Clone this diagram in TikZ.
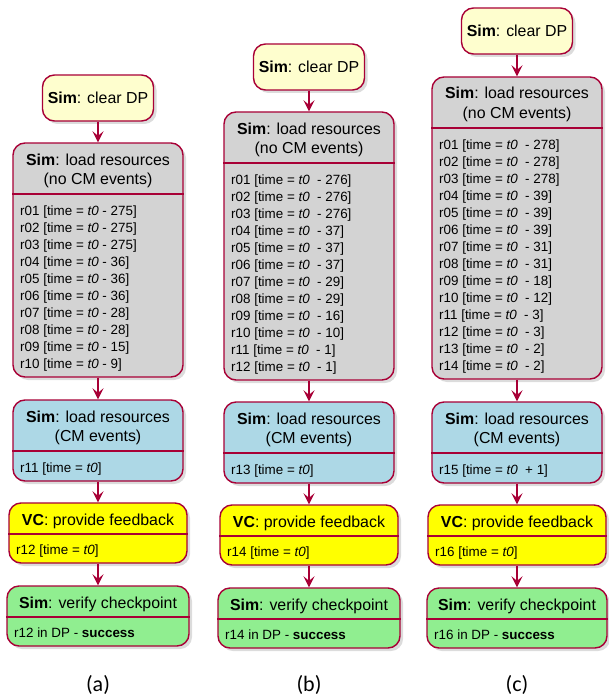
\documentclass[tikz,border=0pt]{standalone}
\usepackage{fontspec}
\setmainfont{Liberation Sans}
\newfontfamily\capfont{Carlito}
\usetikzlibrary{arrows.meta,shadows}
\definecolor{pbord}{HTML}{A80036}
\definecolor{pcream}{HTML}{FEFECE}
\definecolor{pgray}{HTML}{D3D3D3}
\definecolor{pblue}{HTML}{ADD8E6}
\definecolor{pyellow}{HTML}{FFFF00}
\definecolor{pgreen}{HTML}{90EE90}
\tikzset{
  boxbase/.style={draw=pbord, line width=1.4pt, rounded corners=12pt, rectangle, inner sep=0pt,
    drop shadow={opacity=0.28, shadow xshift=3pt, shadow yshift=-3pt}},
  clearbox/.style={boxbase, fill=pcream, minimum width=111pt, minimum height=46pt,
    font=\fontsize{15.9}{19}\selectfont, text height=11.6pt, text depth=0pt},
  loadbox/.style={boxbase, fill=pgray, minimum width=170pt},
  cmbox/.style={boxbase, fill=pblue, minimum width=170pt, minimum height=81pt},
  vcbox/.style={boxbase, fill=pyellow, minimum width=178pt, minimum height=60pt},
  vfbox/.style={boxbase, fill=pgreen, minimum height=60pt},
  divider/.style={draw=pbord, line width=1.4pt},
  ttl/.style={anchor=base, inner sep=0pt, font=\fontsize{15.9}{19}\selectfont},
  lst/.style={anchor=base west, inner sep=0pt, font=\fontsize{13.4}{17}\selectfont},
  flow/.style={draw=pbord, line width=1.3pt, -{Stealth[length=11pt, width=11pt, inset=4.5pt]}},
  caption/.style={inner sep=0pt, font=\capfont\fontsize{22}{26}\selectfont}
}
\begin{document}
\begin{tikzpicture}[x=1pt, y=-1pt]
\useasboundingbox (0,0) rectangle (608,698);

% ================= column (a) =================
\node[clearbox] (clrA) at (98,98) {\textbf{Sim}: clear DP};
\node[loadbox, minimum height=234pt] (ldA) at (98,260) {};
\node[ttl] (ldAt1) at (98,165) {\textbf{Sim}: load resources};
\node[ttl] (ldAt2) at (98,184) {(no CM events)};
\draw[divider] (ldA.west |- 0,194) -- (ldA.east |- 0,194);
\foreach \r/\t [count=\k from 0] in {01/275,02/275,03/275,04/36,05/36,06/36,07/28,08/28,09/15,10/9}
  \node[lst] (ldA-\r) at (20,{215+17*\k}) {r\r{} [time = \textit{t0} - \t]};
\node[cmbox] (cmA) at (98,440.5) {};
\node[ttl] (cmAt1) at (98,422) {\textbf{Sim}: load resources};
\node[ttl] (cmAt2) at (98,441) {(CM events)};
\draw[divider] (cmA.west |- 0,451) -- (cmA.east |- 0,451);
\node[lst] (cmAr) at (20,472) {r11 [time = \textit{t0}]};
\node[vcbox] (vcA) at (98,533) {};
\node[ttl] (vcAt) at (98,525) {\textbf{VC}: provide feedback};
\draw[divider] (vcA.west |- 0,534) -- (vcA.east |- 0,534);
\node[lst] (vcAr) at (16,554) {r12 [time = \textit{t0}]};
\node[vfbox, minimum width=182pt] (vfA) at (98,616) {};
\node[ttl] (vfAt) at (98,608) {\textbf{Sim}: verify checkpoint};
\draw[divider] (vfA.west |- 0,617) -- (vfA.east |- 0,617);
\node[lst] (vfAr) at (14,637) {r12 in DP - \textbf{success}};
\node[caption] (labA) at (98,685) {(a)};
\draw[flow] (clrA.south) -- (ldA.north);
\draw[flow] (ldA.south) -- (cmA.north);
\draw[flow] (cmA.south) -- (vcA.north);
\draw[flow] (vcA.south) -- (vfA.north);

% ================= column (b) =================
\node[clearbox] (clrB) at (309,67) {\textbf{Sim}: clear DP};
\node[loadbox, minimum height=268pt] (ldB) at (309,246) {};
\node[ttl] (ldBt1) at (309,134) {\textbf{Sim}: load resources};
\node[ttl] (ldBt2) at (309,153) {(no CM events)};
\draw[divider] (ldB.west |- 0,163) -- (ldB.east |- 0,163);
\foreach \r/\t [count=\k from 0] in {01/276,02/276,03/276,04/37,05/37,06/37,07/29,08/29,09/16,10/10,11/1,12/1}
  \node[lst] (ldB-\r) at (231,{184+17*\k}) {r\r{} [time = \textit{t0}~~- \t]};
\node[cmbox] (cmB) at (309,442.5) {};
\node[ttl] (cmBt1) at (309,424) {\textbf{Sim}: load resources};
\node[ttl] (cmBt2) at (309,443) {(CM events)};
\draw[divider] (cmB.west |- 0,453) -- (cmB.east |- 0,453);
\node[lst] (cmBr) at (231,474) {r13 [time = \textit{t0}]};
\node[vcbox] (vcB) at (309,535) {};
\node[ttl] (vcBt) at (309,527) {\textbf{VC}: provide feedback};
\draw[divider] (vcB.west |- 0,536) -- (vcB.east |- 0,536);
\node[lst] (vcBr) at (227,556) {r14 [time = \textit{t0}]};
\node[vfbox, minimum width=182pt] (vfB) at (309,618) {};
\node[ttl] (vfBt) at (309,610) {\textbf{Sim}: verify checkpoint};
\draw[divider] (vfB.west |- 0,619) -- (vfB.east |- 0,619);
\node[lst] (vfBr) at (225,639) {r14 in DP - \textbf{success}};
\node[caption] (labB) at (309,685) {(b)};
\draw[flow] (clrB.south) -- (ldB.north);
\draw[flow] (ldB.south) -- (cmB.north);
\draw[flow] (cmB.south) -- (vcB.north);
\draw[flow] (vcB.south) -- (vfB.north);

% ================= column (c) =================
\node[clearbox] (clrC) at (517,31) {\textbf{Sim}: clear DP};
\node[loadbox, minimum height=302pt] (ldC) at (517,228) {};
\node[ttl] (ldCt1) at (517,99) {\textbf{Sim}: load resources};
\node[ttl] (ldCt2) at (517,118) {(no CM events)};
\draw[divider] (ldC.west |- 0,128) -- (ldC.east |- 0,128);
\foreach \r/\t [count=\k from 0] in {01/278,02/278,03/278,04/39,05/39,06/39,07/31,08/31,09/18,10/12,11/3,12/3,13/2,14/2}
  \node[lst] (ldC-\r) at (439,{149+17*\k}) {r\r{} [time = \textit{t0}~~- \t]};
\node[cmbox] (cmC) at (517,442.5) {};
\node[ttl] (cmCt1) at (517,424) {\textbf{Sim}: load resources};
\node[ttl] (cmCt2) at (517,443) {(CM events)};
\draw[divider] (cmC.west |- 0,453) -- (cmC.east |- 0,453);
\node[lst] (cmCr) at (439,474) {r15 [time = \textit{t0}~~+ 1]};
\node[vcbox] (vcC) at (517,535) {};
\node[ttl] (vcCt) at (517,527) {\textbf{VC}: provide feedback};
\draw[divider] (vcC.west |- 0,536) -- (vcC.east |- 0,536);
\node[lst] (vcCr) at (435,556) {r16 [time = \textit{t0}]};
\node[vfbox, minimum width=180pt] (vfC) at (517,618) {};
\node[ttl] (vfCt) at (517,610) {\textbf{Sim}: verify checkpoint};
\draw[divider] (vfC.west |- 0,619) -- (vfC.east |- 0,619);
\node[lst] (vfCr) at (434,639) {r16 in DP - \textbf{success}};
\node[caption] (labC) at (517,685) {(c)};
\draw[flow] (clrC.south) -- (ldC.north);
\draw[flow] (ldC.south) -- (cmC.north);
\draw[flow] (cmC.south) -- (vcC.north);
\draw[flow] (vcC.south) -- (vfC.north);
\end{tikzpicture}
\end{document}
